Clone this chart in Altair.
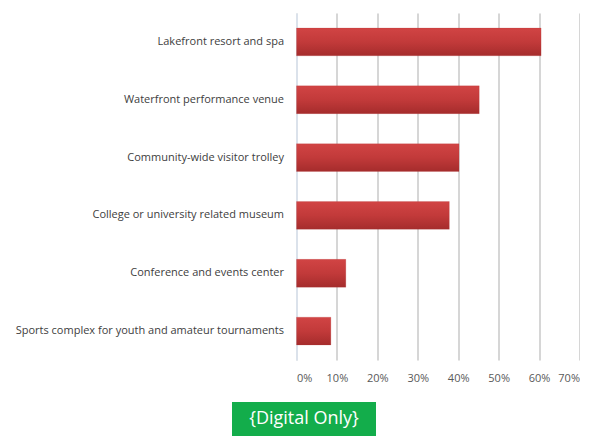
import altair as alt
import pandas as pd

categories = [
    "Lakefront resort and spa",
    "Waterfront performance venue",
    "Community-wide visitor trolley",
    "College or university related museum",
    "Conference and events center",
    "Sports complex for youth and amateur tournaments",
]
values = [0.605, 0.452, 0.402, 0.378, 0.122, 0.085]
x_ticks = [0, 0.1, 0.2, 0.3, 0.4, 0.5, 0.6, 0.7]
badge_text = ["{Digital Only}"]

df = pd.DataFrame({"category": categories, "value": values})

W, H = 283, 347
FONT = "Open Sans"

bars = alt.Chart(df).mark_bar(
    color=alt.Gradient(
        gradient="linear",
        stops=[
            alt.GradientStop(color="#d14444", offset=0),
            alt.GradientStop(color="#c23a3a", offset=0.5),
            alt.GradientStop(color="#a52c2c", offset=1),
        ],
        x1=0, x2=0, y1=0, y2=1,
    ),
    stroke="#b43535",
    strokeWidth=0.5,
    strokeOpacity=0.4,
).encode(
    x=alt.X(
        "value:Q",
        scale=alt.Scale(domain=[0, 0.7], nice=False),
        axis=alt.Axis(
            values=x_ticks,
            format=".0%",
            title=None,
            domain=False,
            ticks=False,
            grid=True,
            gridColor="#d6d6d6",
            gridWidth=2,
            labelFont=FONT,
            labelFontSize=11,
            labelColor="#595959",
            labelPadding=12,
        ),
    ),
    y=alt.Y(
        "category:N",
        sort=categories,
        scale=alt.Scale(paddingInner=0.52, paddingOuter=0.26),
        axis=alt.Axis(
            title=None,
            ticks=False,
            domain=True,
            domainColor="#dce6f2",
            domainWidth=1.5,
            grid=False,
            labelFont=FONT,
            labelFontSize=11,
            labelColor="#404040",
            labelPadding=13,
            labelLimit=400,
        ),
    ),
)

badge_df = pd.DataFrame({"label": badge_text})
badge_rect = alt.Chart(badge_df).mark_rect(color="#13ad4b").encode(
    x=alt.value(-64.5), x2=alt.value(79.5), y=alt.value(389), y2=alt.value(432)
)
badge_label = alt.Chart(badge_df).mark_text(
    color="white", font=FONT, fontSize=18, align="center", baseline="middle"
).encode(text="label:N", x=alt.value(7.5), y=alt.value(406))

chart = (
    alt.layer(bars, badge_rect, badge_label)
    .properties(
        width=W,
        height=H,
        autosize=alt.AutoSizeParams(type="none"),
        padding={"left": 288.5, "top": 5, "right": 0, "bottom": 80},
        view=alt.ViewBackground(strokeOpacity=0, strokeWidth=0),
    )
    .configure_view(strokeOpacity=0, strokeWidth=0)
    .configure_axis(gridCap="butt")
    .configure(background="white")
)

chart.save("out.html", embed_options={"renderer": "svg", "actions": False})
